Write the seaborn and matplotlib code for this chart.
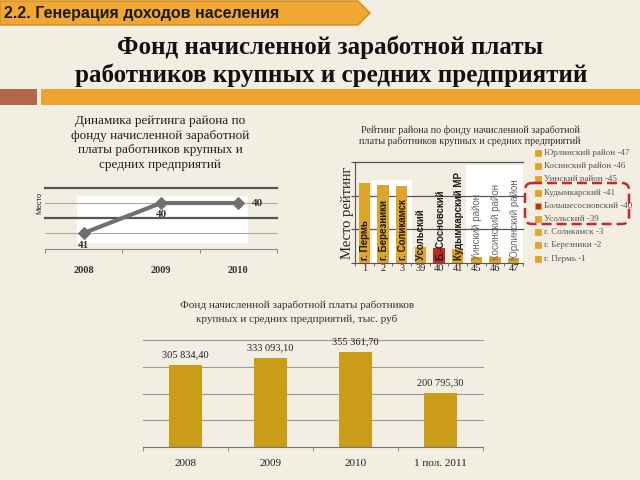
import numpy as np
import pandas as pd
import matplotlib
matplotlib.use("Agg")
import matplotlib.pyplot as plt
import seaborn as sns
from matplotlib.patches import Rectangle, Polygon, FancyBboxPatch

# ---------------- data ----------------
header_text = "2.2. Генерация доходов населения"
main_title = ["Фонд начисленной заработной платы",
              "работников крупных и средних предприятий"]

rank_title = ["Динамика рейтинга района по", "фонду начисленной заработной",
              "платы работников крупных и", "средних предприятий"]
rank_years = ["2008", "2009", "2010"]
rank_values = [41, 40, 40]
rank_ylabel = "Место"

rating_title = ["Рейтинг района по фонду начисленной заработной",
                "платы работников крупных и средних предприятий"]
rating_ranks = ["1", "2", "3", "39", "40", "41", "45", "46", "47"]
rating_names = ["г. Пермь", "г. Березники", "г. Соликамск", "Усольский",
                "Б.-Сосновский", "Кудымкарский МР", "Уинский район",
                "Косинский район", "Юрлинский район"]
rating_values = [2.37, 2.31, 2.28, 0.47, 0.45, 0.42, 0.18, 0.18, 0.15]
rating_ylabel = "Место рейтинг"
legend_labels = ["Юрлинский район -47", "Косинский район -46", "Уинский район -45",
                 "Кудымкарский -41", "Большесосновский -40", "Усольский -39",
                 "г. Соликамск -3", "г. Березники -2", "г. Пермь -1"]

fund_title = ["Фонд начисленной заработной платы работников",
              "крупных и средних предприятий, тыс. руб"]
fund_periods = ["2008", "2009", "2010", "1 пол. 2011"]
fund_values = [305834.40, 333093.10, 355361.70, 200795.30]

# ---------------- style ----------------
BG = "#F2EEE2"
GOLD = "#DDA52A"
GOLD2 = "#C99D17"
RED = "#C42A20"
SERIF = ["Liberation Serif", "DejaVu Serif"]
SANS = ["Liberation Sans", "DejaVu Sans"]
plt.rcParams["font.family"] = SERIF

W, H = 640, 480
fig = plt.figure(figsize=(6.4, 4.8), dpi=100, facecolor=BG)


def rect(x0, y0, x1, y1):
    return [x0 / W, 1 - y1 / H, (x1 - x0) / W, (y1 - y0) / H]


# background / decoration axes in pixel coordinates
bg = fig.add_axes([0, 0, 1, 1], zorder=0)
bg.set_xlim(0, W)
bg.set_ylim(H, 0)
bg.axis("off")

bg.add_patch(Polygon([[0, 1], [358, 1], [370, 13], [358, 25], [0, 25]],
                     closed=True, facecolor="#F0A832", edgecolor="#D08C22", lw=1))
bg.text(4, 13.5, header_text, family=SANS, fontweight="bold", fontsize=11.5,
        color="#1a1a1a", ha="left", va="center")

bg.text(330, 47, main_title[0], family=SERIF, fontweight="bold", fontsize=18,
        color="#111111", ha="center", va="center")
bg.text(331, 75, main_title[1], family=SERIF, fontweight="bold", fontsize=18,
        color="#111111", ha="center", va="center")

bg.add_patch(Rectangle((0, 89), 37, 16, facecolor="#B3664A", edgecolor="none"))
bg.add_patch(Rectangle((41, 89), 599, 16, facecolor="#EEA430", edgecolor="none"))

# chart titles
for i, line in enumerate(rank_title):
    bg.text(160, 121 + i * 14.7, line, fontsize=9.5, color="#222222",
            ha="center", va="center")
bg.text(40, 203, rank_ylabel, family=SANS, fontsize=5.5, rotation=90,
        ha="center", va="center", color="#222222")

for i, line in enumerate(rating_title):
    bg.text(470, 130 + i * 11, line, fontsize=7.3, color="#333333",
            ha="center", va="center")
bg.text(347, 213, rating_ylabel, fontsize=10.5, rotation=90,
        ha="center", va="center", color="#222222")

for i, line in enumerate(fund_title):
    bg.text(297, 305 + i * 14, line, fontsize=8, color="#333333",
            ha="center", va="center")

# legend of rating chart
for i, lab in enumerate(legend_labels):
    y = 153 + i * 13.2
    col = RED if "-40" in lab else GOLD
    bg.add_patch(Rectangle((535, y - 3), 6, 6, facecolor=col, edgecolor=GOLD, lw=0.6))
    bg.text(544, y, lab, fontsize=6.5, color="#555555", ha="left", va="center")
bg.add_patch(FancyBboxPatch((525, 183), 104, 41,
                            boxstyle="round,pad=0,rounding_size=7",
                            facecolor="none", edgecolor="#C8282D", lw=1.8,
                            linestyle=(0, (4, 2))))

# ---------------- chart 1: line ----------------
ax1 = fig.add_axes(rect(45, 188, 277, 249), zorder=1)
ax1.set_facecolor("none")
df1 = pd.DataFrame({"pos": np.arange(len(rank_years)), "rank": rank_values})
ax1.set_xlim(-0.5, 2.5)
ax1.set_ylim(41.53, 39.5)
ax1.add_patch(Rectangle((-0.09, 39.77), 2.21, 1.56, facecolor="white",
                        edgecolor="none", zorder=0))
for yv, c, lw in [(39.5, "#555555", 1.6), (40, "#AAAAAA", 0.8),
                  (40.5, "#555555", 1.6), (41, "#AAAAAA", 0.8)]:
    ax1.axhline(yv, color=c, lw=lw, zorder=1, clip_on=False)
sns.lineplot(data=df1, x="pos", y="rank", ax=ax1, color="#707070", lw=3,
             marker="D", markersize=6, markeredgecolor="#707070", zorder=3)
ax1.annotate(str(rank_values[0]), (0, rank_values[0]), xytext=(0, -9),
             textcoords="offset points", ha="center", va="center",
             fontsize=8, fontweight="bold", color="#333333")
ax1.annotate(str(rank_values[1]), (1, rank_values[1]), xytext=(0, -8),
             textcoords="offset points", ha="center", va="center",
             fontsize=8, fontweight="bold", color="#333333")
ax1.annotate(str(rank_values[2]), (2, rank_values[2]), xytext=(10, 0),
             textcoords="offset points", ha="left", va="center",
             fontsize=8, fontweight="bold", color="#333333", annotation_clip=False)
ax1.set_xticks(range(len(rank_years)))
ax1.set_xticklabels(rank_years, fontsize=7.5, fontweight="bold", color="#333333")
ax1.set_xticks([-0.5, 0.5, 1.5, 2.5], minor=True)
ax1.tick_params(axis="x", which="major", length=0, pad=12)
ax1.tick_params(axis="x", which="minor", length=3, color="#777777")
ax1.set_yticks([])
ax1.set_xlabel("")
ax1.set_ylabel("")
for s in ["top", "left", "right"]:
    ax1.spines[s].set_visible(False)
ax1.spines["bottom"].set_color("#888888")

# ---------------- chart 2: rating bars ----------------
ax2 = fig.add_axes(rect(355, 162, 523, 263), zorder=1)
ax2.set_facecolor("none")
df2 = pd.DataFrame({"rank": rating_ranks, "val": rating_values})
colors2 = [RED if r == "40" else GOLD for r in rating_ranks]
ax2.add_patch(Rectangle((0.41, 0), 2.14, 2.46, facecolor="white",
                        edgecolor="none", zorder=0))
ax2.add_patch(Rectangle((5.45, 0), 3.05, 2.9, facecolor="white",
                        edgecolor="none", zorder=0))
for yv in [1, 2, 3]:
    ax2.axhline(yv, color="#555555", lw=0.9, zorder=1, clip_on=False)
sns.barplot(data=df2, x="rank", y="val", hue="rank", palette=colors2,
            legend=False, ax=ax2, width=0.62, saturation=1, zorder=2)
ax2.set_xlim(-0.5, 8.5)
ax2.set_ylim(0, 3)
for i, name in enumerate(rating_names):
    on_white = i >= 6
    ax2.text(i + 0.05, 0.1, name, rotation=90, ha="center", va="bottom",
             family=SANS, fontsize=7,
             fontweight="normal" if on_white else "bold",
             color="#666666" if on_white else "#1a1a1a", zorder=4)
ax2.set_xticks(range(len(rating_ranks)))
ax2.set_xticklabels(rating_ranks, fontsize=7.5, color="#222222")
ax2.set_xticks(np.arange(-0.5, 9, 1), minor=True)
ax2.tick_params(axis="x", which="major", length=0, pad=1)
ax2.tick_params(axis="x", which="minor", length=2, color="#555555")
ax2.set_yticks([0, 1, 2, 3])
ax2.set_yticklabels([])
ax2.tick_params(axis="y", length=3, color="#555555")
ax2.set_xlabel("")
ax2.set_ylabel("")
for s in ["top", "right"]:
    ax2.spines[s].set_visible(False)
ax2.spines["left"].set_color("#555555")
ax2.spines["bottom"].set_color("#555555")

# ---------------- chart 3: fund bars ----------------
ax3 = fig.add_axes(rect(143, 340, 483, 447), zorder=1)
ax3.set_facecolor("none")
df3 = pd.DataFrame({"period": fund_periods, "val": fund_values})
for yv in [100000, 200000, 300000, 400000]:
    ax3.axhline(yv, color="#9A9A9A", lw=0.8, zorder=1, clip_on=False)
sns.barplot(data=df3, x="period", y="val", ax=ax3, color=GOLD2, width=0.39,
            saturation=1, zorder=2)
ax3.set_xlim(-0.5, 3.5)
ax3.set_ylim(0, 400000)


def fmt(v):
    return f"{v:,.2f}".replace(",", " ").replace(".", ",")


for i, v in enumerate(fund_values):
    ax3.annotate(fmt(v), (i, v), xytext=(0, 4), textcoords="offset points",
                 ha="center", va="bottom", fontsize=7.5, color="#222222")
ax3.set_xticks(range(len(fund_periods)))
ax3.set_xticklabels(fund_periods, fontsize=8, color="#222222")
ax3.set_xticks(np.arange(-0.5, 4, 1), minor=True)
ax3.tick_params(axis="x", which="major", length=0, pad=9)
ax3.tick_params(axis="x", which="minor", length=3, color="#777777")
ax3.set_yticks([])
ax3.set_xlabel("")
ax3.set_ylabel("")
for s in ["top", "left", "right"]:
    ax3.spines[s].set_visible(False)
ax3.spines["bottom"].set_color("#777777")

fig.savefig("out.png", dpi=100, facecolor=BG)
